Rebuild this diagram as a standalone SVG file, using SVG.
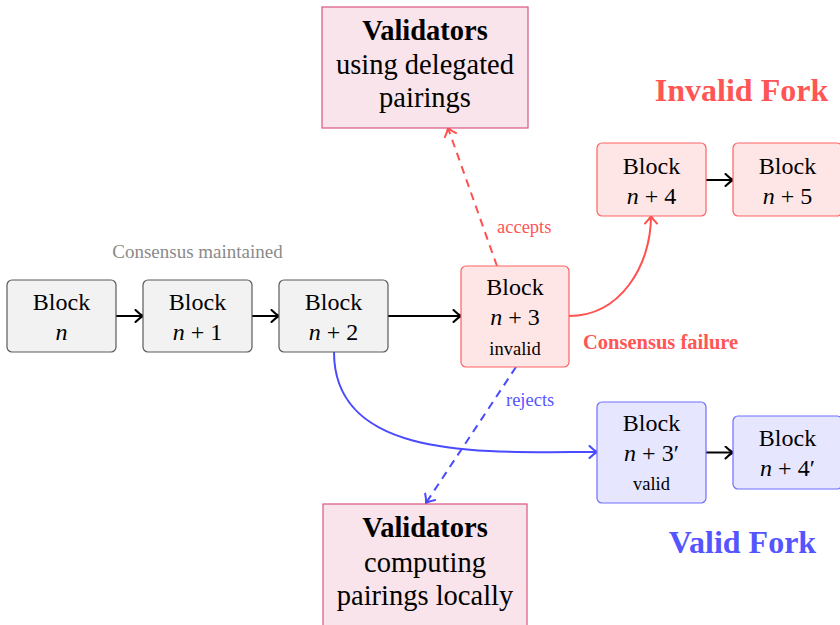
<svg xmlns="http://www.w3.org/2000/svg" width="840" height="625" viewBox="0 0 840 625" font-family="'Liberation Serif', 'DejaVu Serif', serif">
  <defs>
    <style>
      text { text-anchor: middle; }
      .blk { font-size: 24px; fill: #000; }
      .sub { font-size: 18.5px; fill: #000; }
      .it { font-style: italic; }
      .val { font-size: 28.5px; fill: #000; }
      .b { font-weight: bold; }
      .gray { fill: #f2f2f2; stroke: #5a5a5a; stroke-width: 1.2; }
      .red { fill: #ffe6e6; stroke: #ff6262; stroke-width: 1.2; }
      .blue { fill: #e6e6ff; stroke: #6e6eff; stroke-width: 1.2; }
      .pink { fill: #f8e4ea; stroke: #d9577f; stroke-width: 1.2; }
      .arr { fill: none; stroke: #000; stroke-width: 2; }
      .arr-red { fill: none; stroke: #ff5050; stroke-width: 2; }
      .arr-blue { fill: none; stroke: #4a4aff; stroke-width: 2; }
      .dash { stroke-dasharray: 8 6; }
      .lbl { font-size: 18.5px; text-anchor: start; }
    </style>
    <marker id="to-black" viewBox="-9 -7 11 14" refX="0" refY="0" markerWidth="11" markerHeight="14" markerUnits="userSpaceOnUse" orient="auto">
      <path d="M -7.5 -6 C -4 -2.5 -1.5 -0.8 0 0 C -1.5 0.8 -4 2.5 -7.5 6" fill="none" stroke="#000" stroke-width="2" stroke-linecap="round"/>
    </marker>
    <marker id="to-red" viewBox="-9 -7 11 14" refX="0" refY="0" markerWidth="11" markerHeight="14" markerUnits="userSpaceOnUse" orient="auto">
      <path d="M -7.5 -6 C -4 -2.5 -1.5 -0.8 0 0 C -1.5 0.8 -4 2.5 -7.5 6" fill="none" stroke="#ff5050" stroke-width="2" stroke-linecap="round"/>
    </marker>
    <marker id="to-blue" viewBox="-9 -7 11 14" refX="0" refY="0" markerWidth="11" markerHeight="14" markerUnits="userSpaceOnUse" orient="auto">
      <path d="M -7.5 -6 C -4 -2.5 -1.5 -0.8 0 0 C -1.5 0.8 -4 2.5 -7.5 6" fill="none" stroke="#4a4aff" stroke-width="2" stroke-linecap="round"/>
    </marker>
  </defs>

  <!-- captions -->
  <text x="197.5" y="258" font-size="19" fill="#8a8a8a">Consensus maintained</text>
  <text x="741.5" y="101" font-size="32" font-weight="bold" fill="#ff5555">Invalid Fork</text>
  <text x="742.5" y="553" font-size="32" font-weight="bold" fill="#5555ff">Valid Fork</text>

  <!-- connectors -->
  <g id="connectors">
    <line class="arr" x1="116" y1="316" x2="143" y2="316" marker-end="url(#to-black)"/>
    <line class="arr" x1="252" y1="316" x2="279" y2="316" marker-end="url(#to-black)"/>
    <line class="arr" x1="388" y1="316" x2="461" y2="316" marker-end="url(#to-black)"/>
    <line class="arr" x1="706" y1="180" x2="733" y2="180" marker-end="url(#to-black)"/>
    <line class="arr" x1="706" y1="452.5" x2="733" y2="452.5" marker-end="url(#to-black)"/>
    <path class="arr-red" d="M 569 316 C 620 316 651 266 651 216" marker-end="url(#to-red)"/>
    <path class="arr-blue" d="M 334 352 C 334 462 487 452 597 452" marker-end="url(#to-blue)"/>
    <path class="arr-red dash" d="M 497 266 L 448 128" marker-end="url(#to-red)"/>
    <path class="arr-blue dash" d="M 516 367 L 426 503" marker-end="url(#to-blue)"/>
    <text class="lbl" x="497" y="233" fill="#ff5555">accepts</text>
    <text class="lbl" x="506" y="406" fill="#5555ff">rejects</text>
    <text x="583" y="349" font-size="20.5" font-weight="bold" fill="#ff5555" style="text-anchor:start">Consensus failure</text>
  </g>

  <!-- main chain -->
  <g id="block-n">
    <rect class="gray" x="7" y="280" width="109" height="72" rx="5"/>
    <text class="blk" x="61.5" y="310">Block</text>
    <text class="blk" x="61.5" y="340"><tspan class="it">n</tspan></text>
  </g>
  <g id="block-n1">
    <rect class="gray" x="143" y="280" width="109" height="72" rx="5"/>
    <text class="blk" x="197.5" y="310">Block</text>
    <text class="blk" x="197.5" y="340"><tspan class="it">n</tspan> + 1</text>
  </g>
  <g id="block-n2">
    <rect class="gray" x="279" y="280" width="109" height="72" rx="5"/>
    <text class="blk" x="333.5" y="310">Block</text>
    <text class="blk" x="333.5" y="340"><tspan class="it">n</tspan> + 2</text>
  </g>

  <!-- invalid fork -->
  <g id="block-n3">
    <rect class="red" x="461" y="266" width="108" height="101" rx="5"/>
    <text class="blk" x="515" y="295">Block</text>
    <text class="blk" x="515" y="325"><tspan class="it">n</tspan> + 3</text>
    <text class="sub" x="515" y="355">invalid</text>
  </g>
  <g id="block-n4">
    <rect class="red" x="597" y="143" width="109" height="73" rx="5"/>
    <text class="blk" x="651.5" y="173.5">Block</text>
    <text class="blk" x="651.5" y="203.5"><tspan class="it">n</tspan> + 4</text>
  </g>
  <g id="block-n5">
    <rect class="red" x="733" y="143" width="109" height="73" rx="5"/>
    <text class="blk" x="787.5" y="173.5">Block</text>
    <text class="blk" x="787.5" y="203.5"><tspan class="it">n</tspan> + 5</text>
  </g>

  <!-- valid fork -->
  <g id="block-n3p">
    <rect class="blue" x="597" y="402" width="109" height="101" rx="5"/>
    <text class="blk" x="651.5" y="430.5">Block</text>
    <text class="blk" x="651.5" y="460.5"><tspan class="it">n</tspan> + 3′</text>
    <text class="sub" x="651.5" y="490">valid</text>
  </g>
  <g id="block-n4p">
    <rect class="blue" x="733" y="416" width="109" height="73" rx="5"/>
    <text class="blk" x="787.5" y="445.5">Block</text>
    <text class="blk" x="787.5" y="475.5"><tspan class="it">n</tspan> + 4′</text>
  </g>

  <!-- validator groups -->
  <g id="validators-delegated">
    <rect class="pink" x="322" y="7" width="206" height="121"/>
    <text class="val b" x="425" y="40">Validators</text>
    <text class="val" x="425" y="74">using delegated</text>
    <text class="val" x="425" y="107">pairings</text>
  </g>
  <g id="validators-local">
    <rect class="pink" x="323" y="504" width="204" height="130"/>
    <text class="val b" x="425" y="537">Validators</text>
    <text class="val" x="425" y="572">computing</text>
    <text class="val" x="425" y="605">pairings locally</text>
  </g>
</svg>
